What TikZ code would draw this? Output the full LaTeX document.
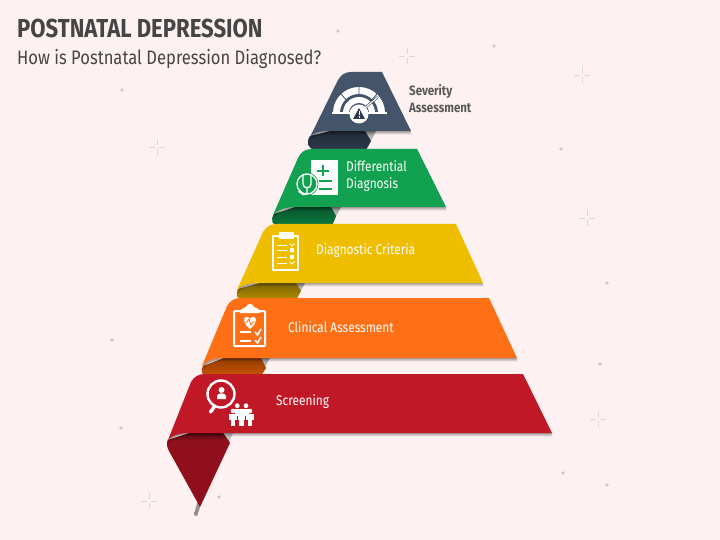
\documentclass[tikz,border=0pt]{standalone}
\usepackage{fontspec}
\setmainfont{Fira Sans}
\newfontfamily\condfont[FakeStretch=0.85]{Fira Sans}
\usetikzlibrary{shadows}
\definecolor{pagebg}{HTML}{FDF1F1}
\definecolor{inkgray}{HTML}{454545}
\definecolor{sevblue}{HTML}{44546A}
\definecolor{sevdark}{HTML}{2E3B4E}
\definecolor{diffgreen}{HTML}{12A150}
\definecolor{diffdark}{HTML}{0B7A3E}
\definecolor{critgold}{HTML}{EFBE00}
\definecolor{critdark}{HTML}{B38E00}
\definecolor{clinorange}{HTML}{FF7016}
\definecolor{clindark}{HTML}{CC5500}
\definecolor{screenred}{HTML}{C01827}
\definecolor{screendark}{HTML}{8F101C}
\tikzset{
  band/.style={fill=#1,
    drop shadow={shadow xshift=0.5pt,shadow yshift=-3.6pt,opacity=.07,fill=black},
    drop shadow={shadow xshift=0.5pt,shadow yshift=-2.6pt,opacity=.12,fill=black},
    drop shadow={shadow xshift=0.3pt,shadow yshift=-1.4pt,opacity=.2,fill=black}},
  strip/.style={top color=black!40,bottom color=black!8},
  sparkle/.style={draw=black!15,line width=0.9pt},
  speck/.style={fill=black!20,draw=none},
  bandtext/.style={text=white,font=\condfont\fontsize{14}{17}\selectfont,align=left,anchor=west,inner sep=0pt},
  icon/.style={draw=white,line width=1.6pt,line cap=round,line join=round}
}
\begin{document}
\begin{tikzpicture}[x=1pt,y=-1pt]
  \useasboundingbox (0,0) rectangle (720,540);
  \fill[pagebg] (0,0) rectangle (720,540);

  % background specks
  \foreach \px/\py in {338/31,494/46,122/90,561/149,607/283,112/340,600/364,121/428,563/473,607/485,219/497}
    \fill[speck] (\px,\py) circle (1.8);
  \foreach \px/\py in {407/56,582/75,157/147,587/218,598/419,149/501}
    \draw[sparkle] (\px-8,\py) -- (\px-2,\py) (\px+2,\py) -- (\px+8,\py)
                   (\px,\py-8) -- (\px,\py-2) (\px,\py+2) -- (\px,\py+8);

  \node[text=inkgray,anchor=west,font=\condfont\bfseries\fontsize{26}{30}\selectfont,inner sep=0pt] (maintitle) at (17,28) {POSTNATAL DEPRESSION};
  \node[text=inkgray,anchor=west,font=\condfont\fontsize{19.5}{22}\selectfont,inner sep=0pt] (subtitle) at (17,59) {How is Postnatal Depression Diagnosed?};

  % strips behind the folds
  \shade[strip] (365,131) -- (376,131) -- (367,149) -- (356,149) -- cycle;
  \shade[strip] (328,207) -- (341,207) -- (332,224) -- (320,224) -- cycle;
  \shade[strip] (294,283) -- (305,283) -- (297,298) -- (285,298) -- cycle;
  \shade[strip] (259,358) -- (270,358) -- (261,374) -- (250,374) -- cycle;
  \shade[top color=black!25,bottom color=black!45] (222,433) -- (233,433) -- (200,507) -- (197,516) -- (194,515) -- (197,503) -- cycle;

  % folds
  \shade[top color=sevdark!70!black,bottom color=sevdark] (310,136) .. controls (306,142) and (307,149) .. (316,150) -- (366,150) -- (371,141) -- (365,131) -- (330,131) -- cycle;
  \shade[top color=diffdark!70!black,bottom color=diffdark] (274,214) .. controls (270,220) and (272,226) .. (280,226) -- (332,226) -- (336,216) -- (331,207) -- (295,207) -- cycle;
  \shade[top color=critdark!70!black,bottom color=critdark] (238,289) .. controls (235,295) and (237,300) .. (244,300) -- (296,300) -- (301,291) -- (296,283) -- (260,283) -- cycle;
  \shade[top color=clindark!70!black,bottom color=clindark] (203,366) .. controls (200,371) and (202,376) .. (208,376) -- (261,376) -- (266,368) -- (261,358) -- (224,358) -- cycle;
  \fill[screendark] (168,440) .. controls (166,444) and (167,447) .. (169,451) -- (200,507) -- (230,443) -- (223,433) -- (190,433) -- cycle;
  \begin{scope}
    \clip (168,440) .. controls (166,444) and (167,447) .. (169,451) -- (200,507) -- (230,443) -- (223,433) -- (190,433) -- cycle;
    \shade[top color=screendark!60!black,bottom color=screendark] (160,433) rectangle (235,441);
  \end{scope}

  % bands
  \path[band=sevblue] (310,137) -- (338,80) .. controls (341,75) and (345,72) .. (351,72) -- (382,72) -- (411,131) -- (331,131) .. controls (321,131) and (314,132) .. (310,137) -- cycle;
  \path[band=diffgreen] (273,215) -- (298,158) .. controls (301,152) and (305,149) .. (312,149) -- (417,149) -- (446,207) -- (295,207) .. controls (285,207) and (277,210) .. (273,215) -- cycle;
  \path[band=critgold] (237,290) -- (263,232) .. controls (266,227) and (270,224) .. (277,224) -- (456,224) -- (483,283) -- (260,283) .. controls (249,283) and (241,285) .. (237,290) -- cycle;
  \path[band=clinorange] (202,366) -- (227,306) .. controls (230,301) and (234,298) .. (241,298) -- (489,298) -- (517,358) -- (224,358) .. controls (214,358) and (206,361) .. (202,366) -- cycle;
  \path[band=screenred] (168,440) -- (191,382) .. controls (194,377) and (198,374) .. (205,374) -- (523,374) -- (552,433) -- (190,433) .. controls (179,433) and (171,436) .. (168,440) -- cycle;

  % labels
  \node[bandtext,text=black!65,font=\condfont\bfseries\fontsize{13.5}{17}\selectfont] (severity) at (409,98.5) {Severity\\Assessment};
  \node[bandtext] (differential) at (346,176.5) {Differential\\Diagnosis};
  \node[bandtext] (criteria) at (316,251) {Diagnostic Criteria};
  \node[bandtext] (clinical) at (288,327) {Clinical Assessment};
  \node[bandtext] (screening) at (276,402) {Screening};

  % gauge icon
  \fill[white] (333,113) arc (180:360:26) -- cycle;
  \fill[sevblue] (340,113) arc (180:360:19) -- cycle;
  \fill[white] (343,113) arc (180:360:16) -- cycle;
  \fill[sevblue] (349,113) arc (180:360:10) -- cycle;
  \draw[sevblue,line width=0.9pt] (359,87) -- (359,97) (341,94) -- (348,102) (377,94) -- (370,102);
  \draw[white,line width=1.2pt] (332,113) -- (387,113);
  \draw[sevblue,line width=2.4pt] (361,111) -- (378,97);
  \draw[white,line width=1.1pt] (361,111) -- (378,97);
  \fill[white] (359,114) circle (9.5);
  \fill[sevdark] (359,108) -- (365,119) -- (353,119) -- cycle;
  \draw[white,line width=0.9pt] (359,111.5) -- (359,115) (359,116.5) -- (359,117.6);

  % stethoscope chart icon
  \fill[white] (311,160) rectangle (338,195);
  \draw[diffgreen,line width=1.8pt] (323,165) -- (323,176) (317,171) -- (329,171);
  \draw[diffgreen,line width=1.4pt] (319,181) -- (332,181) (319,189) -- (332,189);
  \fill[diffgreen] (307,184) circle (11.5);
  \draw[white,line width=1.3pt] (307,184) circle (10);
  \draw[white,line width=1.3pt] (303,175) -- (303,184) .. controls (303,189) and (311,189) .. (311,184) -- (311,175);
  \draw[white,line width=1.3pt] (307,188) -- (307,193) .. controls (304,196) and (301,194) .. (300,192);
  \fill[white] (300,191.5) circle (1.8);

  % criteria clipboard icon
  \draw[icon] (274,236) -- (298,236) -- (298,270) -- (273,270) -- (273,236) -- cycle;
  \fill[white] (278.5,232) rectangle (293.5,239);
  \draw[white,line width=1pt] (277,245) -- (287,245) (277,250) -- (287,250) (277,257) -- (287,257) (277,263) -- (287,263);
  \fill[white] (290,248) rectangle (294,252) (290,255) rectangle (294,259);
  \draw[white,line width=0.8pt] (290,244) -- (292,246) -- (294.5,243.5) (290,262) -- (292,264) -- (294.5,261.5);

  % clinical clipboard icon
  \draw[white,line width=2pt,rounded corners=1pt] (234,311) rectangle (265,346);
  \fill[white] (240,313) .. controls (240,308) and (245,308) .. (246,307) .. controls (247,303) and (253,303) .. (254,307) .. controls (255,308) and (260,308) .. (260,313) -- cycle;
  \fill[white] (244,320) .. controls (244,316) and (249,316) .. (250,319) .. controls (251,316) and (256,316) .. (256,320) .. controls (256,324) and (252,327) .. (250,329) .. controls (248,327) and (244,324) .. (244,320) -- cycle;
  \draw[clinorange,line width=0.8pt] (242,322) -- (247,322) -- (249,319) -- (251,325) -- (253,322) -- (258,322);
  \draw[white,line width=1.4pt] (240,332) -- (251,332) (240,341) -- (251,341);
  \draw[white,line width=1.6pt] (255,332) -- (257.5,335) -- (261,329) (255,340) -- (257.5,343) -- (261,337);

  % magnifier with people icon
  \draw[white,line width=2.4pt] (221,394) circle (13.5);
  \draw[white,line width=3.4pt,line cap=round] (214.5,406.5) -- (210.5,412);
  \fill[white] (221.5,390) circle (3);
  \fill[white] (217,399) -- (217,396) .. controls (217,392.5) and (226,392.5) .. (226,396) -- (226,399) -- cycle;
  \foreach \hx in {237.3,246} {
    \fill[white] (\hx,405.7) circle (2.4);
  }
  \fill[white] (235,408.5) rectangle (248.5,416);
  \foreach \hx in {233,241.7,250} {
    \fill[white] (\hx,411) circle (2.3);
    \fill[white] (\hx-3.6,414) rectangle (\hx+3.6,420);
    \fill[white] (\hx-2.4,420) rectangle (\hx+2.4,426);
  }
\end{tikzpicture}
\end{document}
